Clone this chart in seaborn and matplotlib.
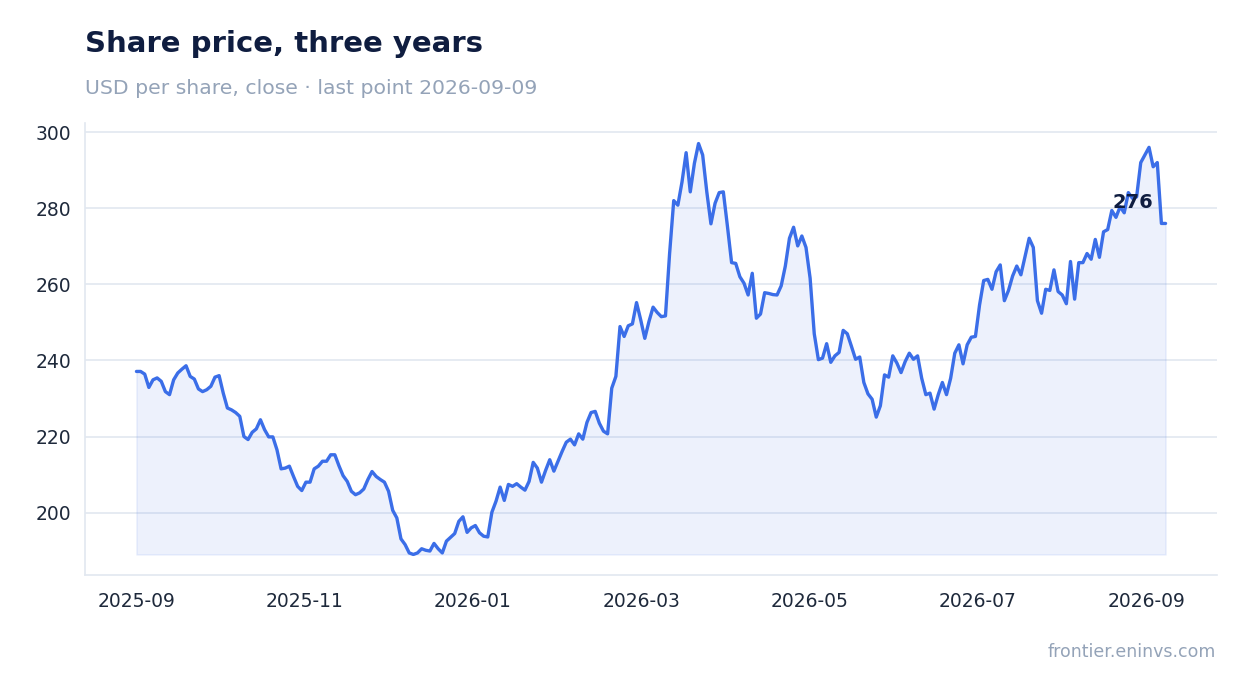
import numpy as np
import pandas as pd
import matplotlib
matplotlib.use("Agg")
import matplotlib.pyplot as plt
import seaborn as sns

# ==========================================
# Data: daily close
# ==========================================
first_day = "2025-09-01"
last_day = "2026-09-09"

close = [
    # Sep - Dec 2025
    237.1, 237.1, 236.4, 232.9, 234.9, 235.4, 234.5, 231.8, 231.0, 234.9,
    236.7, 237.7, 238.6, 235.8, 235.1, 232.5, 231.8, 232.3, 233.2, 235.6,
    236.0, 231.4, 227.5, 227.0, 226.3, 225.3, 220.0, 219.2, 221.1, 222.0,
    224.4, 221.8, 219.9, 219.9, 216.5, 211.5, 211.7, 212.2, 209.5, 206.9,
    205.8, 208.0, 208.0, 211.5, 212.2, 213.5, 213.5, 215.2, 215.2, 212.3,
    209.7, 208.2, 205.6, 204.7, 205.2, 206.2, 208.7, 210.8, 209.5, 208.7,
    208.0, 205.6, 200.6, 198.6, 193.1, 191.6, 189.4, 189.0, 189.4, 190.5,
    190.1, 189.9, 191.9, 190.5, 189.4, 192.5, 193.5, 194.5, 197.7, 198.9,
    194.8, 196.0, 196.6, 194.7, 193.8, 193.6,
    # Jan - Apr 2026
    200.1, 203.0, 206.7, 203.2, 207.4, 206.9, 207.6, 206.7, 205.9, 208.2,
    213.2, 211.7, 208.0, 211.1, 213.9, 210.9, 213.5, 216.1, 218.5, 219.3,
    217.8, 220.7, 219.3, 223.7, 226.3, 226.6, 223.5, 221.4, 220.7, 232.7,
    235.8, 248.9, 246.3, 249.1, 249.6, 255.2, 250.7, 245.8, 250.2, 254.0,
    252.6, 251.5, 251.7, 268.1, 282.0, 280.8, 286.9, 294.6, 284.3, 291.8,
    297.0, 294.0, 284.3, 275.9, 281.3, 284.1, 284.3, 275.2, 265.7, 265.5,
    262.0, 260.3, 257.2, 262.9, 251.1, 252.2, 257.8, 257.6, 257.3, 257.2,
    259.6, 264.8, 272.1, 275.0, 270.1, 272.7, 269.7, 261.6, 247.0, 240.2,
    240.6, 244.4, 239.5, 241.2, 242.1, 247.9, 247.0, 243.7, 240.3,
    # May - Sep 2026
    240.9, 234.2, 231.2, 229.8, 225.1, 228.1, 236.2, 235.6, 241.2, 239.3,
    236.8, 239.7, 241.9, 240.3, 241.2, 235.3, 231.0, 231.4, 227.2, 231.0,
    234.2, 231.0, 235.3, 241.9, 244.1, 239.1, 244.1, 246.1, 246.3, 254.6,
    261.0, 261.3, 258.7, 263.3, 265.1, 255.7, 258.4, 262.2, 264.8, 262.5,
    267.3, 272.1, 269.7, 255.7, 252.4, 258.7, 258.4, 263.8, 258.1, 257.2,
    254.9, 266.0, 256.1, 265.7, 265.7, 268.1, 266.6, 271.8, 267.1, 273.8,
    274.4, 279.4, 277.6, 280.4, 278.8, 284.1, 282.6, 283.0, 292.0, 294.0,
    296.0, 290.9, 292.0, 276.0, 276.0,
]

tick_start = "2025-09-01"
tick_step_days = 61
n_ticks = 7

title = "Share price, three years"
subtitle = "USD per share, close \u00b7 last point 2026-09-09"
footer = "frontier.eninvs.com"

# colours
line_color = "#3b6ee8"
fill_color = "#3b6ee8"
ink = "#0f1d40"
muted = "#94a3b8"
grid_color = "#e2e8f0"

df = pd.DataFrame({
    "date": pd.date_range(first_day, last_day, periods=len(close)),
    "close": close,
})

# ==========================================
# Plot
# ==========================================
sns.set_style("white")
plt.rcParams["font.family"] = ["DejaVu Sans"]

fig = plt.figure(figsize=(12.47, 6.93), dpi=100)
ax = fig.add_axes([85 / 1247, 1 - 575 / 693, (1217 - 85) / 1247, (575 - 123) / 693])

ax.fill_between(df["date"], df["close"], df["close"].min(),
                color=fill_color, alpha=0.09, linewidth=1.2)
sns.lineplot(data=df, x="date", y="close", ax=ax, color=line_color,
             linewidth=2.4, zorder=3)

# label the last close
last = df.iloc[-1]
ax.annotate(f"{last['close']:.0f}", xy=(last["date"], last["close"]),
            xytext=(-9, 15), textcoords="offset points",
            ha="right", va="center", fontsize=14, fontweight="bold",
            color=ink, zorder=4)

ax.set_xlabel("")
ax.set_ylabel("")
ax.set_yticks(np.arange(200, 301, 20))
ticks = pd.date_range(tick_start, periods=n_ticks, freq=f"{tick_step_days}D")
ax.set_xticks(ticks)
ax.set_xticklabels([t.strftime("%Y-%m") for t in ticks])

ax.grid(axis="y", color=grid_color, linewidth=1.2)
ax.set_axisbelow(True)
for side in ["top", "right"]:
    ax.spines[side].set_visible(False)
for side in ["left", "bottom"]:
    ax.spines[side].set_color(grid_color)
    ax.spines[side].set_linewidth(1.2)
ax.tick_params(axis="both", colors="#334155", labelcolor="#1e293b",
               labelsize=13.5, length=4, width=1.2, pad=6)
ax.tick_params(axis="x", pad=8)

fig.text(85 / 1247, 1 - 44 / 693, title, fontsize=21, fontweight="bold",
         color=ink, ha="left", va="center")
fig.text(85 / 1247, 1 - 88 / 693, subtitle, fontsize=14.65,
         color=muted, ha="left", va="center")
fig.text(1216 / 1247, 1 - 652 / 693, footer, fontsize=12.5,
         color=muted, ha="right", va="center")

fig.savefig("out.png", dpi=100)
